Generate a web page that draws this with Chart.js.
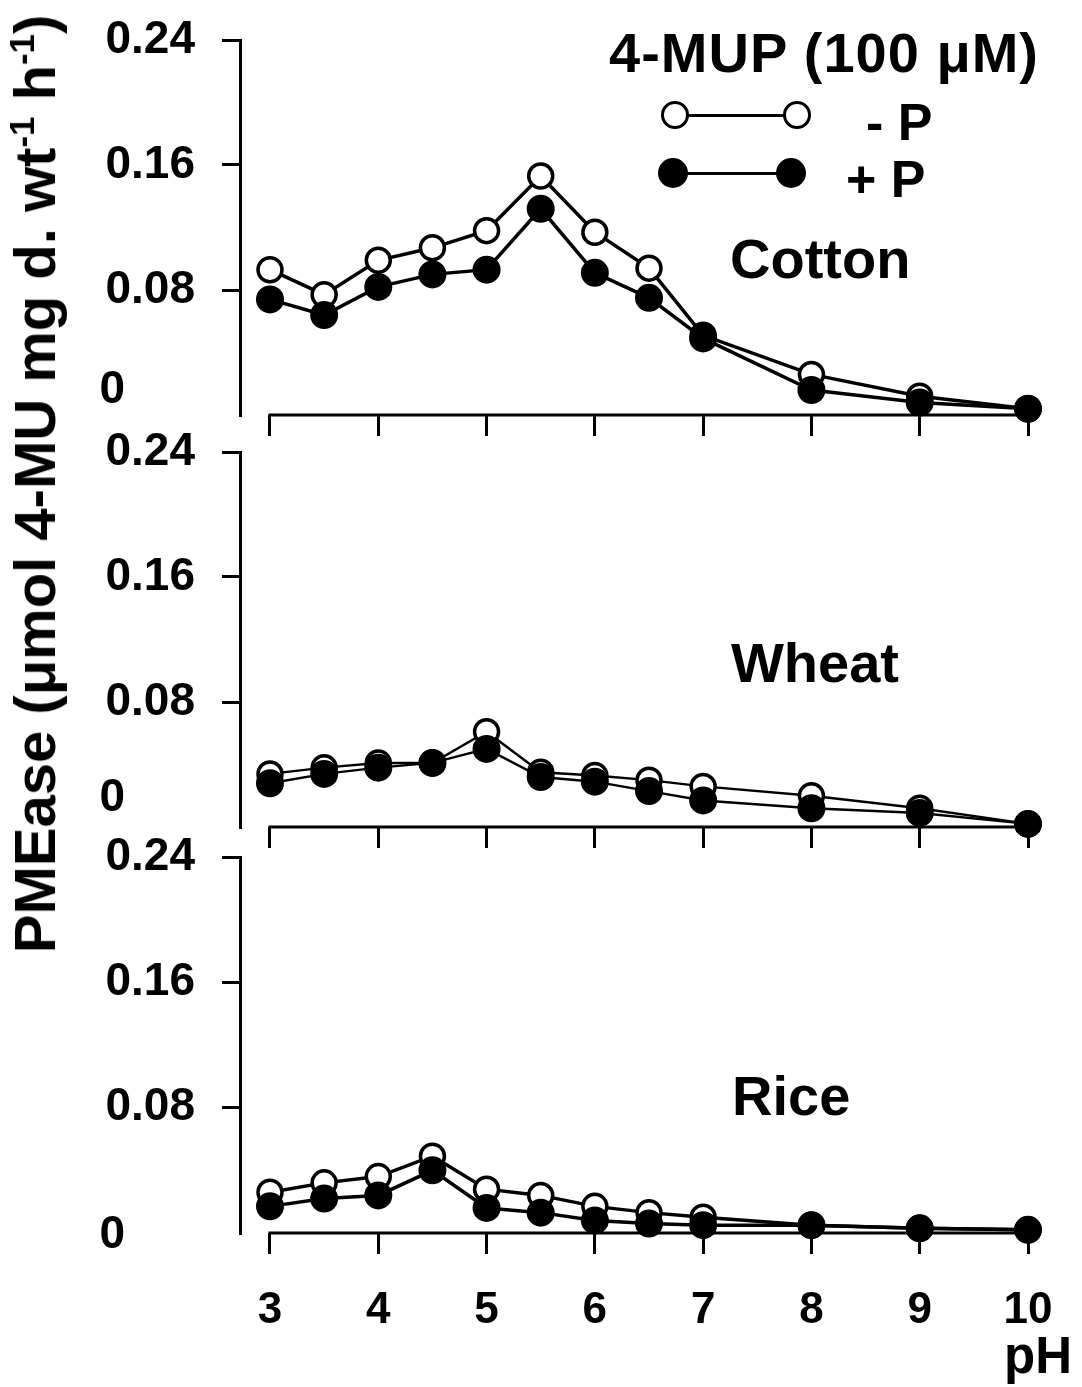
<!DOCTYPE html>
<html>
<head>
<meta charset="utf-8">
<script src="https://cdn.jsdelivr.net/npm/chart.js@4.4.1/dist/chart.umd.min.js"></script>
<style>
  html, body { margin: 0; padding: 0; background: #fff; }
  body { width: 1082px; height: 1387px; position: relative; overflow: hidden;
         font-family: "Liberation Sans", Arial, sans-serif; font-weight: bold; color: #000; }
  canvas { position: absolute; left: 0; }
  .txt { position: absolute; white-space: nowrap; line-height: 1; z-index: 5; }
  .txt sup { font-size: 0.6em; vertical-align: 0.6em; line-height: 0; }
  .dot { position: absolute; border-radius: 50%; box-sizing: border-box; z-index: 6; }
  .open { width: 28px; height: 28px; border: 3.5px solid #000; background: #fff; }
  .filled { width: 30px; height: 30px; background: #000; }
  .lg-line { position: absolute; height: 3px; background: #000; z-index: 5; }
  #ytitle { left: 35px; top: 484px; font-size: 58px; transform: translate(-50%, -50%) rotate(-90deg); }
</style>
</head>
<body>
<canvas id="cotton" width="1082" height="460" style="top:0px"></canvas>
<canvas id="wheat" width="1082" height="460" style="top:412px"></canvas>
<canvas id="rice" width="1082" height="570" style="top:817px"></canvas>

<div class="txt" id="ytitle">PMEase (μmol 4-MU mg d. wt<sup>-1</sup> h<sup>-1</sup>)</div>

<div class="txt" style="left:609px; top:25px; font-size:56px; letter-spacing:1px">4-MUP (100 μM)</div>
<div class="lg-line" style="left:675px; top:114px; width:122px"></div>
<div class="dot open" style="left:661px; top:101px"></div>
<div class="dot open" style="left:783px; top:101px"></div>
<div class="txt" style="left:866px; top:96px; font-size:52px">- P</div>
<div class="lg-line" style="left:673px; top:172px; width:118px"></div>
<div class="dot filled" style="left:658px; top:158px"></div>
<div class="dot filled" style="left:776px; top:158px"></div>
<div class="txt" style="left:846px; top:153px; font-size:52px">+ P</div>

<div class="txt" style="left:730px; top:231px; font-size:56px">Cotton</div>
<div class="txt" style="left:731px; top:635px; font-size:56px">Wheat</div>
<div class="txt" style="left:732px; top:1068px; font-size:56px">Rice</div>
<div class="txt" style="left:1004px; top:1330px; font-size:51px">pH</div>

<script>
const phValues = [3, 3.5, 4, 4.5, 5, 5.5, 6, 6.5, 7, 8, 9, 10];
const phTicks = [3, 4, 5, 6, 7, 8, 9, 10];
const yTicks = [0, 0.08, 0.16, 0.24];

// PMEase activity, -P (open circles) and +P (filled circles)
const cottonMinusP = [0.093, 0.077, 0.099, 0.107, 0.118, 0.153, 0.117, 0.094, 0.051, 0.026, 0.012, 0.004];
const cottonPlusP  = [0.074, 0.064, 0.082, 0.090, 0.093, 0.132, 0.091, 0.075, 0.049, 0.016, 0.008, 0.004];
const wheatMinusP  = [0.034, 0.038, 0.041, 0.041, 0.061, 0.035, 0.033, 0.030, 0.026, 0.020, 0.012, 0.002];
const wheatPlusP   = [0.028, 0.034, 0.038, 0.041, 0.050, 0.032, 0.029, 0.023, 0.017, 0.012, 0.009, 0.002];
const riceMinusP   = [0.026, 0.032, 0.036, 0.049, 0.028, 0.024, 0.017, 0.013, 0.010, 0.005, 0.003, 0.002];
const ricePlusP    = [0.017, 0.022, 0.024, 0.040, 0.016, 0.013, 0.008, 0.006, 0.005, 0.005, 0.003, 0.002];

const FONT = "'Liberation Sans', Arial, sans-serif";
const Y_FONT_SIZE = 46;
const Y_TICK_LEN = 18;
const Y_PAD = 27;

// x axis line only runs from the first to the last pH tick
const xAxisLine = {
  id: "xAxisLine",
  beforeDatasetsDraw(chart) {
    const x = chart.scales.x;
    const y = chart.chartArea.bottom;
    const ctx = chart.ctx;
    ctx.save();
    ctx.strokeStyle = "#000";
    ctx.lineWidth = 3;
    ctx.beginPath();
    ctx.moveTo(x.getPixelForValue(phTicks[0]) - 1.5, y);
    ctx.lineTo(x.getPixelForValue(phTicks[phTicks.length - 1]) + 1.5, y);
    ctx.stroke();
    ctx.restore();
  },
};

// the "0" label sits left-aligned with the other labels, lifted clear of the panel below
const zeroLabel = {
  id: "zeroLabel",
  afterDraw(chart, args, opts) {
    const y = chart.scales.y;
    const ctx = chart.ctx;
    ctx.save();
    ctx.font = `bold ${Y_FONT_SIZE}px ${FONT}`;
    ctx.fillStyle = "#000";
    ctx.textAlign = "left";
    ctx.textBaseline = "middle";
    const right = y.right - Y_TICK_LEN - Y_PAD;
    const left = right - ctx.measureText(yTicks[yTicks.length - 1].toFixed(2)).width;
    ctx.fillText("0", left - 6, y.getPixelForValue(0) + opts.shift);
    ctx.restore();
  },
};

// nudge the layout padding until 0.24 and 0 sit where the panel needs them
function fitArea(chart, top, bottom) {
  for (let i = 0; i < 6; i++) {
    const y = chart.scales.y;
    const dTop = y.getPixelForValue(yTicks[yTicks.length - 1]) - top;
    const dBot = y.getPixelForValue(yTicks[0]) - bottom;
    if (Math.abs(dTop) < 0.25 && Math.abs(dBot) < 0.25) return;
    const pad = chart.config.options.layout.padding;
    chart.config.options.layout.padding = { ...pad, top: pad.top - dTop, bottom: pad.bottom + dBot };
    chart.update();
  }
}

function makePanel(id, minusP, plusP, lineWidth, showLabels, areaBottom, zeroShift) {
  const points = (vals) => phValues.map((x, i) => ({ x, y: vals[i] }));
  const chart = new Chart(document.getElementById(id), {
    type: "line",
    data: {
      datasets: [
        { label: "+ P", data: points(plusP), borderColor: "#000", borderWidth: lineWidth,
          pointRadius: 13, pointBorderWidth: 2, pointBackgroundColor: "#000", pointBorderColor: "#000", clip: false },
        { label: "- P", data: points(minusP), borderColor: "#000", borderWidth: lineWidth,
          pointRadius: 12, pointBorderWidth: 3.5, pointBackgroundColor: "#fff", pointBorderColor: "#000", clip: false },
      ],
    },
    options: {
      responsive: false,
      animation: false,
      events: [],
      layout: { autoPadding: false, padding: { top: 40, right: 54, left: 0, bottom: 20 } },
      plugins: { legend: { display: false }, tooltip: { enabled: false }, zeroLabel: { shift: zeroShift } },
      scales: {
        x: {
          type: "linear", min: 2.723, max: 10,
          afterBuildTicks: (s) => { s.ticks = phTicks.map((value) => ({ value })); },
          afterFit: (s) => { s.height = showLabels ? 135 : 25; s.paddingLeft = 0; s.paddingRight = 0; },
          border: { display: false },
          grid: { drawOnChartArea: false, drawTicks: true, tickLength: 21, lineWidth: 3, color: "#000" },
          ticks: { display: showLabels, color: "#000", padding: 30, maxRotation: 0,
                   font: { family: FONT, size: 44, weight: "bold" } },
        },
        y: {
          min: 0, max: 0.24,
          afterBuildTicks: (s) => { s.ticks = yTicks.map((value) => ({ value })); },
          afterFit: (s) => { s.width = 240; s.paddingTop = 0; s.paddingBottom = 0; },
          border: { display: true, width: 3, color: "#000" },
          grid: { drawOnChartArea: false, tickLength: Y_TICK_LEN, lineWidth: 3,
                  color: (c) => (c.tick && c.tick.value === 0 ? "rgba(0,0,0,0)" : "#000") },
          ticks: { color: "#000", padding: Y_PAD, font: { family: FONT, size: Y_FONT_SIZE, weight: "bold" },
                   callback: (v) => (v === 0 ? "" : v.toFixed(2)) },
        },
      },
    },
    plugins: [xAxisLine, zeroLabel],
  });
  fitArea(chart, 40, areaBottom);
  return chart;
}

makePanel("cotton", cottonMinusP, cottonPlusP, 3.5, false, 415, -25);
makePanel("wheat", wheatMinusP, wheatPlusP, 2.4, false, 415, -29);
makePanel("rice", riceMinusP, ricePlusP, 3.5, true, 416, 2);
</script>
</body>
</html>
